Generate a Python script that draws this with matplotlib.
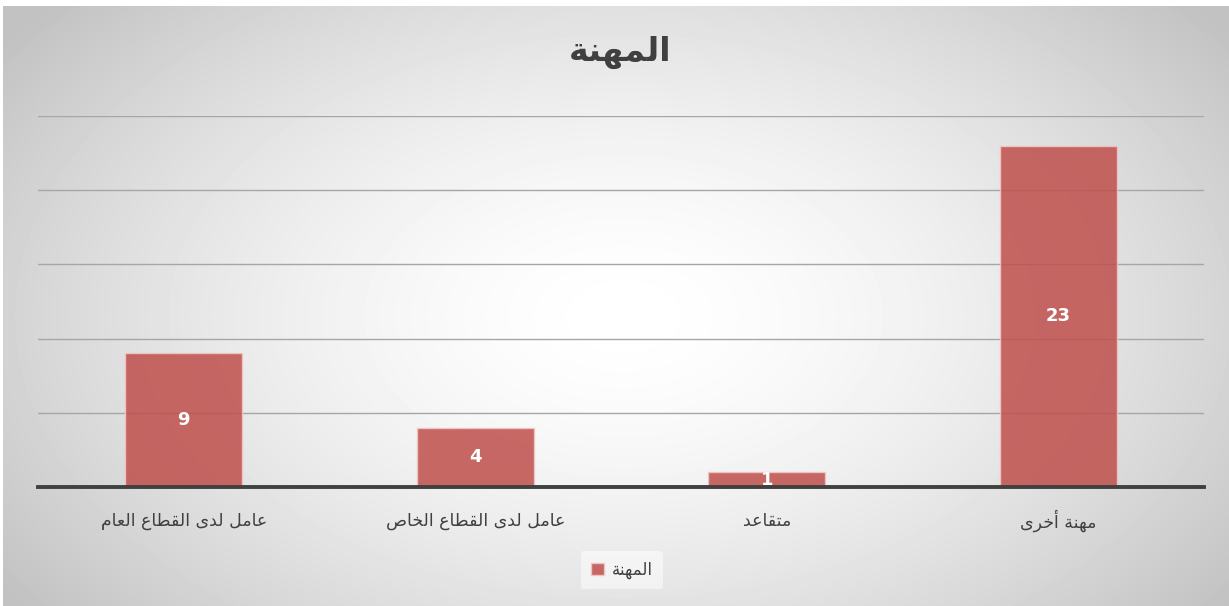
import numpy as np
import matplotlib.pyplot as plt
from matplotlib.patches import Patch
from matplotlib.transforms import blended_transform_factory

# Arabic joining forms: isolated, final, initial, medial (None = does not join left)
FORMS = {
    'ا': ('\uFE8D', '\uFE8E', None, None),
    'أ': ('\uFE83', '\uFE84', None, None),
    'د': ('\uFEA9', '\uFEAA', None, None),
    'ر': ('\uFEAD', '\uFEAE', None, None),
    'ة': ('\uFE93', '\uFE94', None, None),
    'ى': ('\uFEEF', '\uFEF0', None, None),
    'ل': ('\uFEDD', '\uFEDE', '\uFEDF', '\uFEE0'),
    'م': ('\uFEE1', '\uFEE2', '\uFEE3', '\uFEE4'),
    'ه': ('\uFEE9', '\uFEEA', '\uFEEB', '\uFEEC'),
    'ن': ('\uFEE5', '\uFEE6', '\uFEE7', '\uFEE8'),
    'ع': ('\uFEC9', '\uFECA', '\uFECB', '\uFECC'),
    'ق': ('\uFED5', '\uFED6', '\uFED7', '\uFED8'),
    'ط': ('\uFEC1', '\uFEC2', '\uFEC3', '\uFEC4'),
    'خ': ('\uFEA5', '\uFEA6', '\uFEA7', '\uFEA8'),
    'ص': ('\uFEB9', '\uFEBA', '\uFEBB', '\uFEBC'),
    'ت': ('\uFE95', '\uFE96', '\uFE97', '\uFE98'),
}


def ar(text):
    out = []
    for i, ch in enumerate(text):
        if ch not in FORMS:
            out.append(ch)
            continue
        prev = text[i - 1] if i > 0 else ''
        nxt = text[i + 1] if i + 1 < len(text) else ''
        join_prev = prev in FORMS and FORMS[prev][2] is not None
        join_next = nxt in FORMS and FORMS[ch][2] is not None
        iso, fin, ini, med = FORMS[ch]
        if join_prev and join_next:
            out.append(med)
        elif join_prev:
            out.append(fin)
        elif join_next:
            out.append(ini)
        else:
            out.append(iso)
    return ''.join(out)[::-1]


title = 'المهنة'
categories = ['عامل لدى القطاع العام', 'عامل لدى القطاع الخاص', 'متقاعد', 'مهنة أخرى']
values = [9, 4, 1, 23]
yticks = [0, 5, 10, 15, 20, 25]

plt.rcParams['font.family'] = ['DejaVu Sans']

W, H = 1229, 606
fig = plt.figure(figsize=(W / 100, H / 100), dpi=100, facecolor='white')

# radial grey-to-white background
bg = fig.add_axes([3 / W, 0, (W - 3) / W, (H - 6) / H], zorder=-10)
yy, xx = np.mgrid[0:600, 0:1226]
r = np.sqrt(((xx - 620) / 760.0) ** 2 + ((yy - 310) / 470.0) ** 2)
shade = np.clip(1.0 - 0.24 * r ** 1.6, 0.76, 1.0)
bg.imshow(shade, cmap='gray', vmin=0, vmax=1, aspect='auto',
          extent=[0, 1, 0, 1], interpolation='bilinear')
bg.set_axis_off()

ax = fig.add_axes([38 / W, 1 - 487 / H, 1166 / W, 371 / H])
ax.set_facecolor('none')
x = np.arange(len(categories))
bars = ax.bar(x, values, width=0.4, color='#c0504d', alpha=0.86,
              edgecolor='#f2c8c6', linewidth=1, zorder=3)
for xi, v in zip(x, values):
    ax.text(xi, v / 2, str(v), ha='center', va='center', color='white',
            fontsize=13, fontweight='bold', zorder=4)

ax.set_xlim(-0.5, 3.5)
ax.set_ylim(0, 25)
ax.set_yticks(yticks)
ax.grid(axis='y', color='#a6a6a6', linewidth=1, zorder=0)
for s in ['top', 'right', 'left']:
    ax.spines[s].set_visible(False)
ax.spines['bottom'].set_color('#404040')
ax.spines['bottom'].set_linewidth(2.8)
ax.spines['bottom'].set_zorder(5)
ax.set_xticks(x)
ax.tick_params(axis='both', length=0, labelbottom=False, labelleft=False)

# category names, centred on a common baseline band under the axis
trans = blended_transform_factory(ax.transData, fig.transFigure)
for xi, c in zip(x, categories):
    ax.text(xi, 1 - 519 / H, ar(c), transform=trans, ha='center', va='center_baseline',
            fontsize=12.5, color='#404040')

fig.text(620 / W, 1 - 52 / H, ar(title), ha='center', va='center',
         fontsize=24, fontweight='bold', color='#404040')

leg = fig.legend(handles=[Patch(facecolor='#c0504d', alpha=0.86, edgecolor='#f2c8c6')],
                 labels=[ar(title)], loc='center', bbox_to_anchor=(622 / W, 1 - 570 / H),
                 fontsize=12, frameon=True, handlelength=0.8, handleheight=0.8,
                 handletextpad=0.5, borderpad=0.6)
leg.get_frame().set_facecolor('white')
leg.get_frame().set_alpha(0.5)
leg.get_frame().set_edgecolor('none')
for t in leg.get_texts():
    t.set_color('#404040')

fig.savefig('out.png', dpi=100, facecolor='white')
